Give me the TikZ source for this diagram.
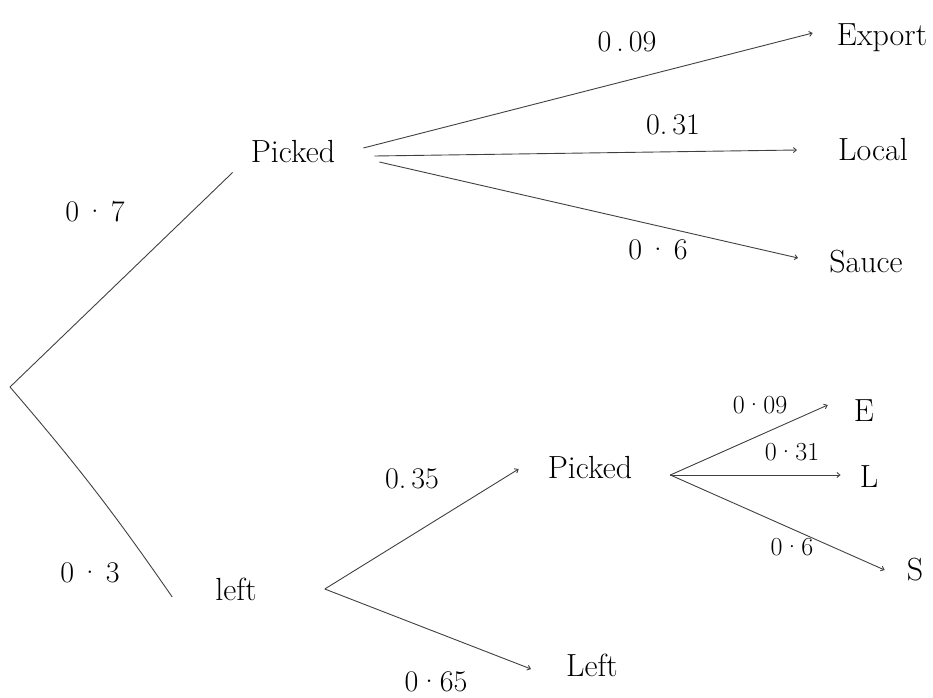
\documentclass[tikz,border=0pt]{standalone}
\usepackage{amsmath}
\usetikzlibrary{arrows.meta}

\tikzset{
  word/.style={font=\fontsize{32}{36}\selectfont, inner sep=0pt},
  prob/.style={font=\fontsize{30}{34}\selectfont, inner sep=0pt},
  small/.style={font=\fontsize{26}{30}\selectfont, inner sep=0pt},
  stem/.style={draw=black!75, line width=0.9pt},
  branch/.style={stem, -{Straight Barb[length=3pt,width=5pt]}}
}

\begin{document}
\begin{tikzpicture}[x=1pt,y=-1pt]
\useasboundingbox (0,0) rectangle (933,697);

% first split
\coordinate (root) at (10,387);
\node[word] (pick) at (293,152) {Picked};
\node[word] (left) at (236,589) {left};
\draw[stem] (root) -- ([shift={(-18,9)}]pick.south west);
\draw[stem] (root) to[bend left=3] ([shift={(-43,8)}]left.west);
\node[prob] (p7) at (95,212) {0\,·\,7};
\node[prob] (p3) at (90,573) {0\,·\,3};

% picked
\node[word] (exp) at (882,38) {Export};
\node[word] (loc) at (873,150) {Local};
\node[word] (sau) at (866,262) {Sauce};
\draw[branch] ([shift={(28,-4)}]pick.east) -- ([shift={(-24,-5)}]exp.west);
\draw[branch] ([shift={(39,4)}]pick.east) -- ([shift={(-41,0)}]loc.west);
\draw[branch] ([shift={(44,10)}]pick.east) -- ([shift={(-31,-4)}]sau.west);
\node[prob] (pe) at (627,42) {0\,.\,09};
\node[prob] (pl) at (673,125) {0.\,31};
\node[prob] (ps) at (658,250) {0\,·\,6};

% left
\node[word] (pick2) at (590,468) {Picked};
\node[word] (left2) at (592,665) {Left};
\draw[branch] ([xshift=68pt]left.east) -- ([shift={(-29,1)}]pick2.west);
\draw[branch] ([xshift=68pt]left.east) -- ([shift={(-35,4)}]left2.west);
\node[prob] (p35) at (412,479) {0.\,35};
\node[prob] (p65) at (436,682) {0·65};

% picked again
\node[word] (e) at (864,411) {E};
\node[word] (l) at (869,477) {L};
\node[word] (s) at (915,570) {S};
\draw[branch] ([shift={(38,7)}]pick2.east) -- ([shift={(-26,-6)}]e.west);
\draw[branch] ([shift={(38,7)}]pick2.east) -- ([shift={(-19,-2)}]l.west);
\draw[branch] ([shift={(38,7)}]pick2.east) -- ([shift={(-22,0)}]s.west);
\node[small] (qe) at (760,405) {0·09};
\node[small] (ql) at (792,452) {0·31};
\node[small] (qs) at (792,547) {0·6};

\end{tikzpicture}
\end{document}
